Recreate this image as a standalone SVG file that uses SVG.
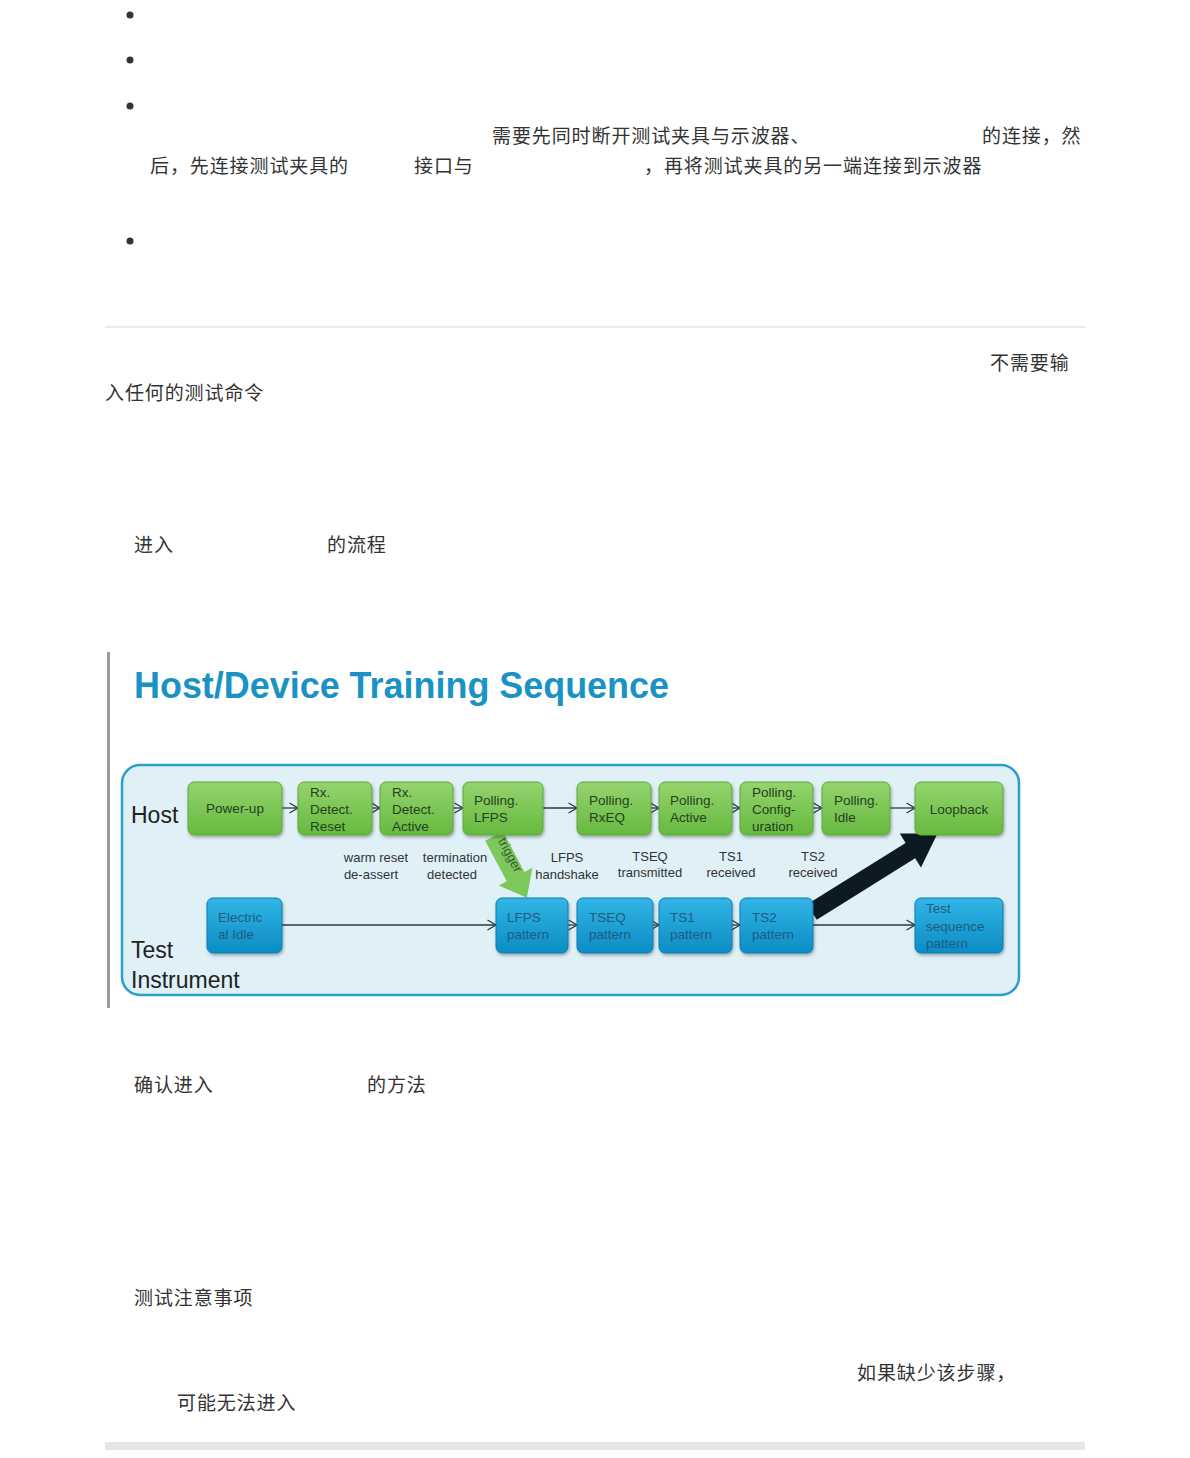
<svg xmlns="http://www.w3.org/2000/svg" width="1190" height="1458" viewBox="0 0 1190 1458">
<defs>
<style>
.cn{font-family:"Noto Sans CJK SC","Noto Sans",sans-serif;font-size:19px;fill:#333;letter-spacing:0.9px}
.lane{font-family:"Liberation Sans",Arial,sans-serif;font-size:23px;fill:#222}
.bx{font-family:"Liberation Sans",Arial,sans-serif;font-size:13.5px}
.g text{fill:#26401f}
.b text{fill:#1e5c80}
.lbl{font-family:"Liberation Sans",Arial,sans-serif;font-size:13px;fill:#333;text-anchor:middle}
.conn{stroke:#2b3a40;stroke-width:1.3;fill:none;marker-end:url(#chev)}
</style>
<linearGradient id="gg" x1="0" y1="0" x2="0" y2="1">
<stop offset="0" stop-color="#94d46e"/><stop offset="1" stop-color="#66b93f"/>
</linearGradient>
<linearGradient id="bg" x1="0" y1="0" x2="0" y2="1">
<stop offset="0" stop-color="#33b5e5"/><stop offset="1" stop-color="#0b8cc4"/>
</linearGradient>
<filter id="sh" x="-10%" y="-10%" width="130%" height="140%">
<feDropShadow dx="1" dy="2" stdDeviation="1.5" flood-color="#000" flood-opacity="0.3"/>
</filter>
<marker id="chev" markerUnits="userSpaceOnUse" markerWidth="11" markerHeight="12" refX="9.5" refY="6" orient="auto">
<path d="M1,1 L9.5,6 L1,11" fill="none" stroke="#2b3a40" stroke-width="1.3"/>
</marker>
</defs>
<rect width="1190" height="1458" fill="#fff"/>

<g id="page-text">
<circle cx="130" cy="15" r="3.5" fill="#333"/>
<circle cx="130" cy="60" r="3.5" fill="#333"/>
<circle cx="130" cy="106" r="3.5" fill="#333"/>
<circle cx="130" cy="241" r="3.5" fill="#333"/>
<text class="cn" x="492" y="143">需要先同时断开测试夹具与示波器、</text>
<text class="cn" x="982" y="143">的连接，然</text>
<text class="cn" x="150" y="173">后，先连接测试夹具的</text>
<text class="cn" x="414" y="173">接口与</text>
<text class="cn" x="644" y="173">，再将测试夹具的另一端连接到示波器</text>
<rect x="105" y="326" width="980" height="2" fill="#ebebeb"/>
<text class="cn" x="990" y="370">不需要输</text>
<text class="cn" x="105" y="400">入任何的测试命令</text>
<text class="cn" x="134" y="552">进入</text>
<text class="cn" x="327" y="552">的流程</text>
<text class="cn" x="134" y="1092">确认进入</text>
<text class="cn" x="367" y="1092">的方法</text>
<text class="cn" x="134" y="1305">测试注意事项</text>
<text class="cn" x="857" y="1380">如果缺少该步骤，</text>
<text class="cn" x="177" y="1410">可能无法进入</text>
<rect x="105" y="1442" width="980" height="8" fill="#e6e6e6"/>
</g>

<g id="figure-frame">
<rect x="107" y="652" width="3" height="356" fill="#9a9a9a"/>
<text x="134" y="698" font-family="Liberation Sans,Arial,sans-serif" font-weight="bold" font-size="36" fill="#1a93c4" textLength="535" lengthAdjust="spacingAndGlyphs">Host/Device Training Sequence</text>
<rect x="122" y="765" width="897" height="230" rx="18" fill="#dff0f7" stroke="#2a9fca" stroke-width="2.5"/>
<text class="lane" x="131" y="823">Host</text>
<text class="lane" x="131" y="958">Test</text>
<text class="lane" x="131" y="988">Instrument</text>
</g>

<g id="connectors">
<line class="conn" x1="282" y1="808" x2="298" y2="808"/>
<line class="conn" x1="372" y1="808" x2="380" y2="808"/>
<line class="conn" x1="453" y1="808" x2="463" y2="808"/>
<line class="conn" x1="543" y1="808" x2="577" y2="808"/>
<line class="conn" x1="651" y1="808" x2="659" y2="808"/>
<line class="conn" x1="732" y1="808" x2="740" y2="808"/>
<line class="conn" x1="813" y1="808" x2="822" y2="808"/>
<line class="conn" x1="890" y1="808" x2="915" y2="808"/>
<line class="conn" x1="282" y1="925" x2="496" y2="925"/>
<line class="conn" x1="568" y1="925" x2="577" y2="925"/>
<line class="conn" x1="653" y1="925" x2="659" y2="925"/>
<line class="conn" x1="732" y1="925" x2="740" y2="925"/>
<line class="conn" x1="813" y1="925" x2="915" y2="925"/>
<g id="trigger-arrow" transform="translate(494,836) rotate(62)">
<polygon points="0,-10 46,-10 46,-19 70,0 46,19 46,10 0,10" fill="#7cc85a"/>
<text x="6" y="-1" font-family="Liberation Sans,Arial,sans-serif" font-size="13" fill="#3d5a2e">trigger</text>
</g>
<g id="loopback-arrow" transform="translate(812,912) rotate(-32)">
<polygon points="0,-9 116,-9 116,-20 148,0 116,20 116,9 0,9" fill="#0e1a22"/>
</g>
</g>

<g id="node-powerup" class="g bx"><rect x="188" y="782" width="94" height="53" rx="6" fill="url(#gg)" stroke="#5ea63c" filter="url(#sh)"/><text x="235" y="813" text-anchor="middle">Power-up</text></g>
<g id="node-rxdetreset" class="g bx"><rect x="298" y="782" width="74" height="53" rx="6" fill="url(#gg)" stroke="#5ea63c" filter="url(#sh)"/><text x="310" y="797">Rx.</text><text x="310" y="814">Detect.</text><text x="310" y="831">Reset</text></g>
<g id="node-rxdetactive" class="g bx"><rect x="380" y="782" width="73" height="53" rx="6" fill="url(#gg)" stroke="#5ea63c" filter="url(#sh)"/><text x="392" y="797">Rx.</text><text x="392" y="814">Detect.</text><text x="392" y="831">Active</text></g>
<g id="node-pollfps" class="g bx"><rect x="463" y="782" width="80" height="53" rx="6" fill="url(#gg)" stroke="#5ea63c" filter="url(#sh)"/><text x="474" y="805">Polling.</text><text x="474" y="822">LFPS</text></g>
<g id="node-pollrxeq" class="g bx"><rect x="577" y="782" width="74" height="53" rx="6" fill="url(#gg)" stroke="#5ea63c" filter="url(#sh)"/><text x="589" y="805">Polling.</text><text x="589" y="822">RxEQ</text></g>
<g id="node-pollactive" class="g bx"><rect x="659" y="782" width="73" height="53" rx="6" fill="url(#gg)" stroke="#5ea63c" filter="url(#sh)"/><text x="670" y="805">Polling.</text><text x="670" y="822">Active</text></g>
<g id="node-pollconfig" class="g bx"><rect x="740" y="782" width="73" height="53" rx="6" fill="url(#gg)" stroke="#5ea63c" filter="url(#sh)"/><text x="752" y="797">Polling.</text><text x="752" y="814">Config-</text><text x="752" y="831">uration</text></g>
<g id="node-pollidle" class="g bx"><rect x="822" y="782" width="68" height="53" rx="6" fill="url(#gg)" stroke="#5ea63c" filter="url(#sh)"/><text x="834" y="805">Polling.</text><text x="834" y="822">Idle</text></g>
<g id="node-loopback" class="g bx"><rect x="915" y="782" width="88" height="53" rx="6" fill="url(#gg)" stroke="#5ea63c" filter="url(#sh)"/><text x="959" y="814" text-anchor="middle">Loopback</text></g>

<g id="node-elecidle" class="b bx"><rect x="207" y="898" width="75" height="55" rx="6" fill="url(#bg)" stroke="#0a7fb3" filter="url(#sh)"/><text x="218" y="922">Electric</text><text x="218" y="939">al Idle</text></g>
<g id="node-lfpspat" class="b bx"><rect x="496" y="898" width="72" height="55" rx="6" fill="url(#bg)" stroke="#0a7fb3" filter="url(#sh)"/><text x="507" y="922">LFPS</text><text x="507" y="939">pattern</text></g>
<g id="node-tseqpat" class="b bx"><rect x="577" y="898" width="76" height="55" rx="6" fill="url(#bg)" stroke="#0a7fb3" filter="url(#sh)"/><text x="589" y="922">TSEQ</text><text x="589" y="939">pattern</text></g>
<g id="node-ts1pat" class="b bx"><rect x="659" y="898" width="73" height="55" rx="6" fill="url(#bg)" stroke="#0a7fb3" filter="url(#sh)"/><text x="670" y="922">TS1</text><text x="670" y="939">pattern</text></g>
<g id="node-ts2pat" class="b bx"><rect x="740" y="898" width="73" height="55" rx="6" fill="url(#bg)" stroke="#0a7fb3" filter="url(#sh)"/><text x="752" y="922">TS2</text><text x="752" y="939">pattern</text></g>
<g id="node-testseq" class="b bx"><rect x="915" y="898" width="88" height="55" rx="6" fill="url(#bg)" stroke="#0a7fb3" filter="url(#sh)"/><text x="926" y="913">Test</text><text x="926" y="931">sequence</text><text x="926" y="948">pattern</text></g>

<g id="edge-labels">
<text class="lbl" x="376" y="862">warm reset</text><text class="lbl" x="371" y="879">de-assert</text>
<text class="lbl" x="455" y="862">termination</text><text class="lbl" x="452" y="879">detected</text>
<text class="lbl" x="567" y="862">LFPS</text><text class="lbl" x="567" y="879">handshake</text>
<text class="lbl" x="650" y="861">TSEQ</text><text class="lbl" x="650" y="877">transmitted</text>
<text class="lbl" x="731" y="861">TS1</text><text class="lbl" x="731" y="877">received</text>
<text class="lbl" x="813" y="861">TS2</text><text class="lbl" x="813" y="877">received</text>
</g>
</svg>
